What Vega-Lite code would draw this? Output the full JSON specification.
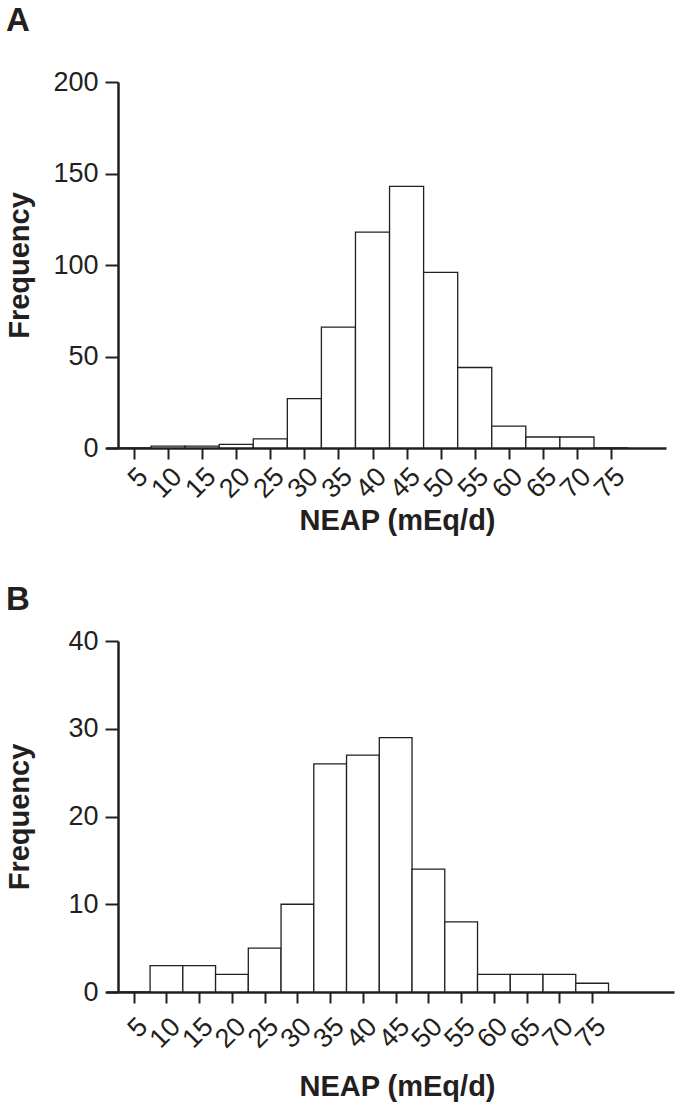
{
  "$schema": "https://vega.github.io/schema/vega-lite/v6.json",
  "background": "white",
  "padding": {"left": 5, "top": 5, "right": 5, "bottom": 5},
  "spacing": 49,
  "config": {
    "view": {"stroke": null},
    "font": "Liberation Sans",
    "axis": {
      "grid": false,
      "domainColor": "#231f20",
      "domainWidth": 2.5,
      "tickColor": "#231f20",
      "tickWidth": 2,
      "labelColor": "#231f20",
      "titleColor": "#231f20",
      "labelFont": "Liberation Sans Narrow, Liberation Sans",
      "labelFontSize": 27,
      "labelOverlap": false,
      "titleFont": "Liberation Sans",
      "titleFontSize": 29,
      "titleFontWeight": "bold"
    },
    "title": {"fontSize": 33, "fontWeight": "bold", "anchor": "start", "color": "#231f20", "frame": "group"}
  },
  "vconcat": [
    {
      "title": {"text": "A", "dx": -100, "offset": 30},
      "width": 560,
      "height": 366,
      "data": {"values": [
        {"neap": 5, "lo": 2.5, "hi": 7.5, "count": 0},
        {"neap": 10, "lo": 7.5, "hi": 12.5, "count": 1},
        {"neap": 15, "lo": 12.5, "hi": 17.5, "count": 1},
        {"neap": 20, "lo": 17.5, "hi": 22.5, "count": 2},
        {"neap": 25, "lo": 22.5, "hi": 27.5, "count": 5},
        {"neap": 30, "lo": 27.5, "hi": 32.5, "count": 27},
        {"neap": 35, "lo": 32.5, "hi": 37.5, "count": 66},
        {"neap": 40, "lo": 37.5, "hi": 42.5, "count": 118},
        {"neap": 45, "lo": 42.5, "hi": 47.5, "count": 143},
        {"neap": 50, "lo": 47.5, "hi": 52.5, "count": 96},
        {"neap": 55, "lo": 52.5, "hi": 57.5, "count": 44},
        {"neap": 60, "lo": 57.5, "hi": 62.5, "count": 12},
        {"neap": 65, "lo": 62.5, "hi": 67.5, "count": 6},
        {"neap": 70, "lo": 67.5, "hi": 72.5, "count": 6},
        {"neap": 75, "lo": 72.5, "hi": 77.5, "count": 0}
      ]},
      "mark": {"type": "bar", "fill": "white", "stroke": "#231f20", "strokeWidth": 1.3},
      "encoding": {
        "x": {"field": "lo", "type": "quantitative",
          "scale": {"domain": [0.89, 83.07], "nice": false, "zero": false},
          "axis": {"values": [5, 10, 15, 20, 25, 30, 35, 40, 45, 50, 55, 60, 65, 70, 75],
            "labelAngle": -45, "tickSize": 11, "labelPadding": 4,
            "title": "NEAP (mEq/d)", "titleX": 291, "titleY": 81, "titleBaseline": "alphabetic"}},
        "x2": {"field": "hi"},
        "y": {"field": "count", "type": "quantitative",
          "scale": {"domain": [0, 200], "nice": false},
          "axis": {"values": [0, 50, 100, 150, 200], "offset": -12, "tickSize": 13, "labelPadding": 7,
            "title": "Frequency", "titleX": -99, "titleBaseline": "middle"}},
        "y2": {"datum": 0}
      }
    },
    {
      "title": {"text": "B", "dx": -100, "offset": 10},
      "width": 568,
      "height": 351,
      "data": {"values": [
        {"neap": 5, "lo": 2.5, "hi": 7.5, "count": 0},
        {"neap": 10, "lo": 7.5, "hi": 12.5, "count": 3},
        {"neap": 15, "lo": 12.5, "hi": 17.5, "count": 3},
        {"neap": 20, "lo": 17.5, "hi": 22.5, "count": 2},
        {"neap": 25, "lo": 22.5, "hi": 27.5, "count": 5},
        {"neap": 30, "lo": 27.5, "hi": 32.5, "count": 10},
        {"neap": 35, "lo": 32.5, "hi": 37.5, "count": 26},
        {"neap": 40, "lo": 37.5, "hi": 42.5, "count": 27},
        {"neap": 45, "lo": 42.5, "hi": 47.5, "count": 29},
        {"neap": 50, "lo": 47.5, "hi": 52.5, "count": 14},
        {"neap": 55, "lo": 52.5, "hi": 57.5, "count": 8},
        {"neap": 60, "lo": 57.5, "hi": 62.5, "count": 2},
        {"neap": 65, "lo": 62.5, "hi": 67.5, "count": 2},
        {"neap": 70, "lo": 67.5, "hi": 72.5, "count": 2},
        {"neap": 75, "lo": 72.5, "hi": 77.5, "count": 1}
      ]},
      "mark": {"type": "bar", "fill": "white", "stroke": "#231f20", "strokeWidth": 1.3},
      "encoding": {
        "x": {"field": "lo", "type": "quantitative",
          "scale": {"domain": [0.77, 87.5], "nice": false, "zero": false},
          "axis": {"values": [5, 10, 15, 20, 25, 30, 35, 40, 45, 50, 55, 60, 65, 70, 75],
            "labelAngle": -45, "tickSize": 11, "labelPadding": 10,
            "title": "NEAP (mEq/d)", "titleX": 291, "titleY": 103, "titleBaseline": "alphabetic"}},
        "x2": {"field": "hi"},
        "y": {"field": "count", "type": "quantitative",
          "scale": {"domain": [0, 40], "nice": false},
          "axis": {"values": [0, 10, 20, 30, 40], "offset": -12, "tickSize": 13, "labelPadding": 7,
            "title": "Frequency", "titleX": -99, "titleBaseline": "middle"}},
        "y2": {"datum": 0}
      }
    }
  ]
}
